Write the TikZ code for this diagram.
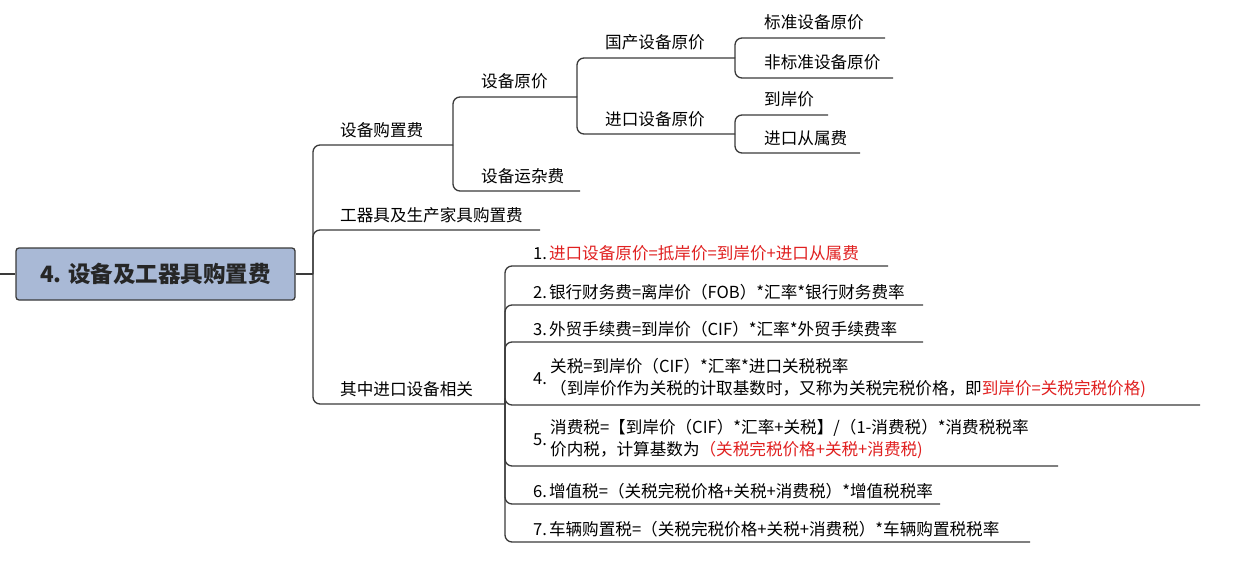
\documentclass[tikz,border=0pt]{standalone}
\usepackage{fontspec}
\setmainfont{Noto Sans CJK SC}
\definecolor{ln}{HTML}{3A3A3A}
\definecolor{rd}{HTML}{E02020}
\definecolor{rootf}{HTML}{A9B9D6}
\tikzset{br/.style={draw=ln,line width=1.3pt,rounded corners=7pt},
 t/.style={anchor=base west,inner sep=0pt,font=\fontsize{16.6}{19}\selectfont,text=black},
 tl/.style={anchor=west,inner sep=0pt,font=\fontsize{16.6}{22.5}\selectfont,text=black,align=left}}
\begin{document}
\begin{tikzpicture}[x=1pt,y=-1pt]
\useasboundingbox (0,0) rectangle (1257,567);
\node[draw=ln,line width=1.3pt,fill=rootf,rounded corners=3pt,minimum width=279pt,minimum height=52pt,font=\fontsize{22.5}{26}\selectfont\bfseries,text=black!85] (root) at (155.5,274) {4. 设备及工器具购置费};
\coordinate (l0) at (0,274);
\draw[br] (l0) -- (root.west);
\coordinate (r1) at (313,274);
\draw[br] (root.east) -- (r1);
% level 1
\draw[br] (r1) |- (453,145);
\draw[br] (r1) |- (540,230);
\draw[br] (r1) |- (505,404);
\node[t] (a) at (340,136) {设备购置费};
\node[t] (b) at (340,221) {工器具及生产家具购置费};
\node[t] (c) at (340,395) {其中进口设备相关};
% level 2
\draw[br] (453,145) |- (577,97);
\draw[br] (453,145) |- (580,191);
\node[t] (a1) at (481,88) {设备原价};
\node[t] (a2) at (481,182) {设备运杂费};
\draw[br] (577,97) |- (735,58);
\draw[br] (577,97) |- (735,134);
\node[t] (a11) at (605,49) {国产设备原价};
\node[t] (a12) at (605,125) {进口设备原价};
\draw[br] (735,58) |- (885,38);
\draw[br] (735,58) |- (893,78);
\draw[br] (735,134) |- (828,115);
\draw[br] (735,134) |- (860,153);
\node[t] (x1) at (764,29) {标准设备原价};
\node[t] (x2) at (764,69) {非标准设备原价};
\node[t] (x3) at (764,106) {到岸价};
\node[t] (x4) at (764,144) {进口从属费};
% imports
\foreach \yy/\xe in {266/888,305/923,342/923,405/1200,466/1058,504/940,542/1030}
  \draw[br] (505,404) |- (\xe,\yy);
\node[t] (n1) at (533,259) {1.\kern2pt\textcolor{rd}{进口设备原价=抵岸价=到岸价+进口从属费}};
\node[t] (n2) at (533,298) {2.\kern2pt银行财务费=离岸价（FOB）*汇率*银行财务费率};
\node[t] (n3) at (533,335) {3.\kern2pt外贸手续费=到岸价（CIF）*汇率*外贸手续费率};
\node[t] (n4) at (533,384) {4.};
\node[tl] (n4t) at (550,378) {关税=到岸价（CIF）*汇率*进口关税税率\\（到岸价作为关税的计取基数时，又称为关税完税价格，即\textcolor{rd}{到岸价=关税完税价格)}};
\node[t] (n5) at (533,445) {5.};
\node[tl] (n5t) at (550,439) {消费税=【到岸价（CIF）*汇率+关税】/（1-消费税）*消费税税率\\价内税，计算基数为\textcolor{rd}{（关税完税价格+关税+消费税)}};
\node[t] (n6) at (533,497) {6.\kern2pt增值税=（关税完税价格+关税+消费税）*增值税税率};
\node[t] (n7) at (533,535) {7.\kern2pt车辆购置税=（关税完税价格+关税+消费税）*车辆购置税税率};
\end{tikzpicture}
\end{document}
